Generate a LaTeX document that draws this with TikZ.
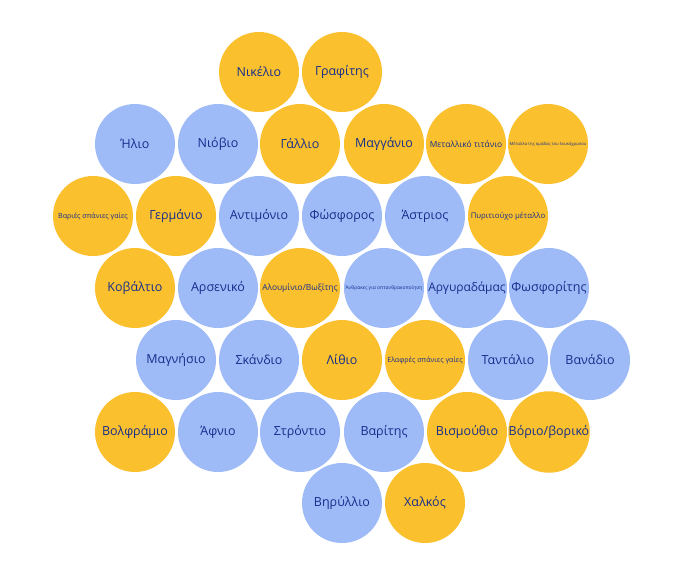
\documentclass[tikz,border=0pt]{standalone}
\usepackage{fontspec}
\setmainfont{Open Sans}
\definecolor{kitrino}{RGB}{251,192,45}
\definecolor{mple}{RGB}{158,187,248}
\definecolor{grammata}{RGB}{22,46,140}
\tikzset{
  stoixeio/.style={circle,minimum size=80pt,inner sep=0pt,text=grammata,font=\fontsize{12.5}{14}\selectfont},
  kit/.style={stoixeio,fill=kitrino},
  mpl/.style={stoixeio,fill=mple},
  mesaio/.style={font=\fontsize{8.4}{10}\selectfont},
  mikro/.style={font=\fontsize{7.1}{9}\selectfont},
  pmikro/.style={font=\fontsize{4.9}{6}\selectfont}
}
\begin{document}
\begin{tikzpicture}[x=1pt,y=-1pt]
            \useasboundingbox (0,0) rectangle (692,574);
            % seira 1
            \node[kit] (nikelio) at (259,72) {Νικέλιο};
            \node[kit] (grafitis) at (342,72) {Γραφίτης};
            % seira 2
            \node[mpl] (ilio) at (135,144) {Ήλιο};
            \node[mpl] (niovio) at (218,144) {Νιόβιο};
            \node[kit] (gallio) at (300,144) {Γάλλιο};
            \node[kit] (mangano) at (384,144) {Μαγγάνιο};
            \node[kit,mesaio] (titanio) at (466,144) {Μεταλλικό τιτάνιο};
            \node[kit,font=\fontsize{4.2}{5}\selectfont] (leukoxrysos) at (548,144) {Μέταλλα της ομάδας του λευκόχρυσου};
            % seira 3
            \node[kit,mikro] (variesgaies) at (93,216) {Βαριές σπάνιες γαίες};
            \node[kit] (germanio) at (176,216) {Γερμάνιο};
            \node[mpl] (antimonio) at (259,216) {Αντιμόνιο};
            \node[mpl] (fosforos) at (342,216) {Φώσφορος};
            \node[mpl] (astrios) at (425,216) {Άστριος};
            \node[kit,font=\fontsize{7.8}{9}\selectfont] (pyritio) at (508,216) {Πυριτιούχο μέταλλο};
            % seira 4
            \node[kit] (kovaltio) at (135,288) {Κοβάλτιο};
            \node[mpl] (arseniko) at (218,288) {Αρσενικό};
            \node[kit,mesaio] (alouminio) at (300,288) {Αλουμίνιο/Βωξίτης};
            \node[mpl,pmikro] (anthrakes) at (384,288) {Άνθρακες για οπτανθρακοποίηση};
            \node[mpl,font=\fontsize{12}{14}\selectfont] (argyradamas) at (467,288) {Αργυραδάμας};
            \node[mpl] (fosforitis) at (549,288) {Φωσφορίτης};
            % seira 5
            \node[mpl] (magnisio) at (176,360) {Μαγνήσιο};
            \node[mpl] (skandio) at (259,360) {Σκάνδιο};
            \node[kit] (lithio) at (342,360) {Λίθιο};
            \node[kit,mikro] (elafresgaies) at (425,360) {Ελαφρές σπάνιες γαίες};
            \node[mpl] (tantalio) at (508,360) {Ταντάλιο};
            \node[mpl] (vanadio) at (590,360) {Βανάδιο};
            % seira 6
            \node[kit] (volframio) at (135,432) {Βολφράμιο};
            \node[mpl] (afnio) at (218,432) {Άφνιο};
            \node[mpl] (strontio) at (300,432) {Στρόντιο};
            \node[mpl] (varitis) at (384,432) {Βαρίτης};
            \node[kit] (vismouthio) at (467,432) {Βισμούθιο};
            \node[kit] (vorio) at (549,432) {Βόριο/βορικό};
            % seira 7
            \node[mpl] (virylio) at (342,503) {Βηρύλλιο};
            \node[kit] (xalkos) at (425,503) {Χαλκός};
\end{tikzpicture}
\end{document}
